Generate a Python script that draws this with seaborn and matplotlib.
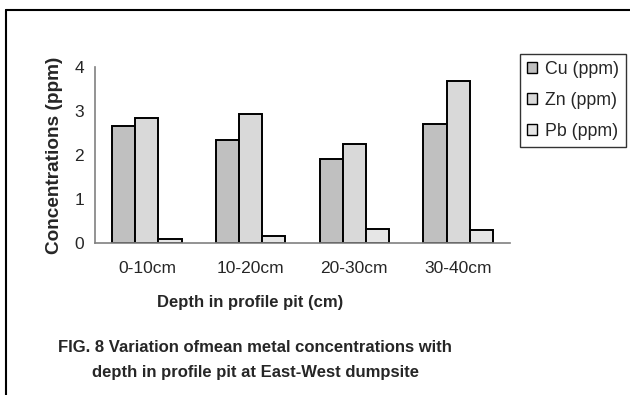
import matplotlib
matplotlib.use("Agg")
import matplotlib.pyplot as plt
import seaborn as sns
import pandas as pd
from matplotlib.patches import Rectangle
from matplotlib.lines import Line2D

depths = ["0-10cm", "10-20cm", "20-30cm", "30-40cm"]
metals = ["Cu (ppm)", "Zn (ppm)", "Pb (ppm)"]
cu = [2.65, 2.34, 1.90, 2.70]
zn = [2.85, 2.93, 2.26, 3.69]
pb = [0.08, 0.15, 0.32, 0.28]
colors = ["#c0c0c0", "#d9d9d9", "#e6e6e6"]

rows = []
for m, vals in zip(metals, [cu, zn, pb]):
    for d, v in zip(depths, vals):
        rows.append({"Depth": d, "Metal": m, "Value": v})
df = pd.DataFrame(rows)

sns.set_style("white")
plt.rcParams["font.family"] = ["Liberation Sans", "DejaVu Sans"]

fig = plt.figure(figsize=(6.3, 3.95), dpi=100)
ax = fig.add_axes([0.1508, 0.3856, 0.6587, 0.444])

sns.barplot(data=df, x="Depth", y="Value", hue="Metal", order=depths,
            hue_order=metals, palette=colors, width=0.67, gap=0,
            edgecolor="black", linewidth=1.4, saturation=1, ax=ax,
            legend=False)

ax.set_ylim(0, 4)
ax.set_xlim(-0.5, 3.5)
ax.set_yticks([0, 1, 2, 3, 4])
ax.set_yticklabels(["0", "1", "2", "3", "4"], fontsize=12.5)
ax.set_xticks([-0.5, 0.5, 1.5, 2.5, 3.5])
ax.set_xticklabels([])
ax.set_xticks(range(len(depths)), minor=True)
ax.set_xticklabels(depths, minor=True, fontsize=12.5)
ax.tick_params(axis="x", which="minor", length=0, pad=13)
ax.tick_params(axis="x", which="major", length=4, color="#808080", direction="out", width=1)
ax.tick_params(axis="y", length=4, color="#808080", direction="out", width=1, pad=4)

for s in ["top", "right"]:
    ax.spines[s].set_visible(False)
for s in ["left", "bottom"]:
    ax.spines[s].set_color("#808080")
    ax.spines[s].set_linewidth(1.2)

ax.set_ylabel("Concentrations (ppm)", fontsize=13.7, fontweight="bold", labelpad=8)
ax.set_xlabel("")

fig.text(250 / 630, 1 - 303 / 395, "Depth in profile pit (cm)", fontsize=12,
         fontweight="bold", ha="center", va="center")
fig.text(255 / 630, 1 - 347 / 395, "FIG. 8 Variation ofmean metal concentrations with",
         fontsize=12, fontweight="bold", ha="center", va="center")
fig.text(256 / 630, 1 - 372 / 395, "depth in profile pit at East-West dumpsite",
         fontsize=12, fontweight="bold", ha="center", va="center")

handles = [Rectangle((0, 0), 1, 1, facecolor=c, edgecolor="black", linewidth=1)
           for c in colors]
leg = fig.legend(handles, metals, loc="upper left",
                 bbox_to_anchor=(520 / 630, 1 - 54 / 395), fontsize=12.8,
                 frameon=True, fancybox=False, edgecolor="black",
                 handlelength=0.55, handleheight=0.55, handletextpad=0.45,
                 labelspacing=0.78, borderpad=0.4, borderaxespad=0)
leg.get_frame().set_linewidth(1)

# outer frame lines (top and left)
fig.add_artist(Line2D([6 / 630, 1], [1 - 10 / 395, 1 - 10 / 395], color="black", lw=1.5))
fig.add_artist(Line2D([6 / 630, 6 / 630], [1 - 10 / 395, 0], color="black", lw=1.5))

fig.savefig("out.png", dpi=100)
